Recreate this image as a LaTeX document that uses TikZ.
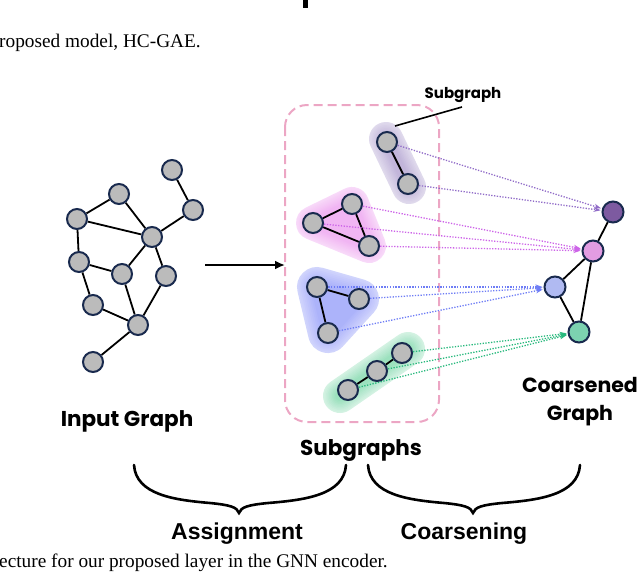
\documentclass[tikz,border=0pt]{standalone}
\usepackage{fontspec}
\setmainfont{Liberation Serif}
\newfontfamily\comicf{Poppins}
\newfontfamily\arialf{Liberation Sans}
\usetikzlibrary{arrows.meta}
\pgfdeclarelayer{blobs}
\pgfdeclarelayer{links}
\pgfsetlayers{blobs,links,main}
\definecolor{nodegray}{RGB}{187,187,187}
\definecolor{nodeedge}{RGB}{25,42,78}
\definecolor{pinkdash}{RGB}{236,166,196}
\definecolor{ctrpurple}{RGB}{180,165,210}
\definecolor{ctrpink}{RGB}{238,165,240}
\definecolor{ctrblue}{RGB}{165,172,250}
\definecolor{ctrgreen}{RGB}{140,220,180}
\definecolor{cpurple}{RGB}{125,90,160}
\definecolor{cpink}{RGB}{226,156,226}
\definecolor{cblue}{RGB}{176,186,242}
\definecolor{cgreen}{RGB}{124,210,176}
\definecolor{lpurple}{RGB}{145,108,200}
\definecolor{lpink}{RGB}{205,100,232}
\definecolor{lblue}{RGB}{110,125,245}
\definecolor{lgreen}{RGB}{40,185,125}
\tikzset{
  gnode/.style={circle, draw=nodeedge, line width=2pt, fill=nodegray, minimum size=20pt, inner sep=0pt},
  cnode/.style={circle, draw=nodeedge, line width=2pt, minimum size=21pt, inner sep=0pt},
  gedge/.style={line width=1.8pt, black},
  dotarrow/.style={line width=1.3pt, dash pattern=on 1.3pt off 1.5pt, -{Stealth[length=7pt,width=5pt]}, shorten >=1pt},
  lbl/.style={font=\comicf\bfseries\fontsize{21.5}{27}\selectfont, inner sep=0pt, align=center},
  bigl/.style={font=\arialf\bfseries\fontsize{23}{27}\selectfont, inner sep=0pt},
  capt/.style={font=\fontsize{19.3}{22}\selectfont, inner sep=0pt, anchor=base west},
  bracel/.style={line width=2.6pt, black, line cap=round}
}
\begin{document}
\begin{tikzpicture}[x=1pt,y=-1pt]
\useasboundingbox (0,0) rectangle (640,571);
% page fragments
\fill (303,0) rectangle (308,8);
\node[capt] (captop) at (-1,47) {roposed model, HC-GAE.};
\node[capt] (capbot) at (-1,567) {ecture for our proposed layer in the GNN encoder.};

% blobs (stepped gradients)
\begin{pgfonlayer}{blobs}
\foreach \i [evaluate=\i as \w using 34-3*\i, evaluate=\i as \m using 42+5*\i] in {0,...,8}
  \draw[line width=\w pt, line cap=round, ctrpurple!\m!white] (386,139) -- (409,187);
\foreach \i [evaluate=\i as \w using 34-3*\i, evaluate=\i as \m using 42+5*\i] in {0,...,8}
  \draw[line width=\w pt, line join=round, ctrpink!\m!white, fill=ctrpink!\m!white] (352,204) -- (313,223) -- (369,246) -- cycle;
\foreach \i [evaluate=\i as \w using 40-3.5*\i, evaluate=\i as \m using 52+5*\i] in {0,...,8}
  \draw[line width=\w pt, line join=round, ctrblue!\m!white, fill=ctrblue!\m!white] (317,287) -- (359,299) -- (328,333) -- cycle;
\foreach \i [evaluate=\i as \w using 34-3*\i, evaluate=\i as \m using 38+6*\i] in {0,...,8}
  \draw[line width=\w pt, line cap=round, ctrgreen!\m!white] (340,396) -- (408,349);
% dashed box
\draw[pinkdash, line width=2pt, dash pattern=on 9pt off 5pt, rounded corners=22pt] (285,105) rectangle (439,422);
\end{pgfonlayer}

% input graph
\node[gnode] (g1) at (172,170) {};
\node[gnode] (g2) at (193,210) {};
\node[gnode] (g3) at (119,194) {};
\node[gnode] (g4) at (77,219) {};
\node[gnode] (g5) at (152,237) {};
\node[gnode] (g6) at (79,262) {};
\node[gnode] (g7) at (122,274) {};
\node[gnode] (g8) at (166,276) {};
\node[gnode] (g9) at (93,305) {};
\node[gnode] (g10) at (138,325) {};
\node[gnode] (g11) at (93,362) {};

% subgraph nodes
\node[gnode] (a1) at (387,142) {};
\node[gnode] (a2) at (408,184) {};
\node[gnode] (b1) at (352,204) {};
\node[gnode] (b2) at (313,223) {};
\node[gnode] (b3) at (369,246) {};
\node[gnode] (c1) at (317,287) {};
\node[gnode] (c2) at (359,299) {};
\node[gnode] (c3) at (328,333) {};
\node[gnode] (d1) at (402,353) {};
\node[gnode] (d2) at (377,371) {};
\node[gnode] (d3) at (348,390) {};

% coarsened graph
\node[cnode, fill=cpurple] (P) at (613,212) {};
\node[cnode, fill=cpink] (M) at (593,251) {};
\node[cnode, fill=cblue] (B) at (555,287) {};
\node[cnode, fill=cgreen] (G) at (579,332) {};

\begin{pgfonlayer}{links}
\foreach \a/\b in {g1/g2,g2/g5,g3/g4,g3/g5,g4/g5,g4/g6,g6/g7,g7/g5,g5/g8,g6/g9,g9/g10,g7/g10,g8/g10,g10/g11}
  \draw[gedge] (\a) -- (\b);
\foreach \a/\b in {a1/a2,b1/b2,b2/b3,b3/b1,c1/c2,c1/c3,d1/d2,d2/d3}
  \draw[gedge] (\a) -- (\b);
\foreach \a/\b in {P/M,M/B,M/G,B/G}
  \draw[gedge] (\a) -- (\b);
% dotted arrows
\foreach \s in {a1,a2} \draw[dotarrow, lpurple] (\s.center) -- (P);
\foreach \s in {b1,b2,b3} \draw[dotarrow, lpink] (\s.center) -- (M);
\foreach \s in {c1,c2,c3} \draw[dotarrow, lblue] (\s.center) -- (B);
\foreach \s in {d1,d2,d3} \draw[dotarrow, lgreen] (\s.center) -- (G);
\end{pgfonlayer}

% main arrow
\coordinate (arrs) at (205,265);
\coordinate (arre) at (285,265);
\draw[line width=2.4pt, -{Latex[length=10pt,width=9pt]}] (arrs) -- (arre);

% subgraph label
\node[lbl, font=\comicf\bfseries\fontsize{15}{18}\selectfont, anchor=base] (sglabel) at (463,98) {Subgraph};
\coordinate (sgtail) at (395,126);
\coordinate (sghead) at (462,107);
\draw[line width=1.6pt] (sgtail) -- (sghead);

% labels
\node[lbl, anchor=base] (inlabel) at (127,426) {Input Graph};
\node[lbl, anchor=base] (sublabel) at (361,455) {Subgraphs};
\node[lbl, font=\comicf\bfseries\fontsize{20.5}{27.5}\selectfont, anchor=base] (colabel) at (580,420) {Coarsened\\Graph};

% braces
\draw[bracel] (134,465) .. controls (136,495) and (175,500) .. (210,503) .. controls (230,505) and (237,507) .. (239,513) .. controls (241,507) and (248,505) .. (268,503) .. controls (305,500) and (344,495) .. (346,465);
\draw[bracel] (368,465) .. controls (370,495) and (409,500) .. (444,503) .. controls (464,505) and (471,507) .. (473,513) .. controls (475,507) and (482,505) .. (502,503) .. controls (539,500) and (578,495) .. (580,465);
\node[bigl, anchor=base] (assign) at (237,539) {Assignment};
\node[bigl, anchor=base] (coarse) at (464,539) {Coarsening};
\end{tikzpicture}
\end{document}
